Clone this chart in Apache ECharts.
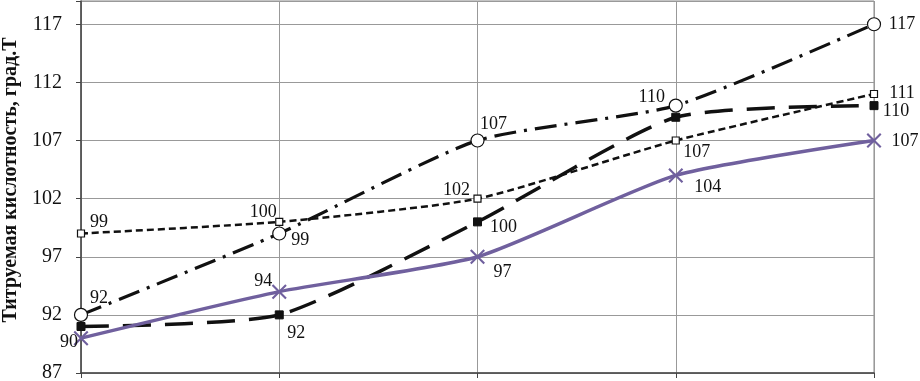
<!DOCTYPE html>
<html><head><meta charset="utf-8">
<script src="https://cdn.jsdelivr.net/npm/echarts@6/dist/echarts.min.js"></script>
<style>html,body{margin:0;padding:0;background:#fff}#c{width:920px;height:381px}</style>
</head><body><div id="c"></div>
<script>
const categories = ['1', '2', '3', '4', '5'];
const seriesCircle = [92, 99, 107, 110, 117];
const seriesFilledSq = [91, 92, 100, 109, 110];
const seriesOpenSq = [99, 100, 102, 107, 111];
const seriesPurple = [90, 94, 97, 104, 107];
const yTicks = [87, 92, 97, 102, 107, 112, 117];

// label offsets (text centre relative to point) — styling only
const offCircle = [[18,-17],[21,7],[16,-16],[-24,-8],[28,0]];
const showFilled = [false, true, true, false, true];
const offFilled = [[0,0],[17,18],[26,5],[0,0],[22,6]];
const offOpen = [[18,-11],[-16,-10],[-21,-8],[21,12],[28,-1]];
const offPurple = [[-12,4],[-16,-10],[25,16],[32,12],[31,1]];

const serif = '"Liberation Serif", "Times New Roman", serif';
const lblBase = {fontFamily: serif, fontSize: 18, color: '#111', position: 'inside', align: 'center', verticalAlign: 'middle', formatter: '{c}'};

function mk(values, offs, shows) {
  return values.map((v, i) => ({value: v, label: {show: shows ? shows[i] : true, offset: offs[i]}}));
}

const xPath = 'path://M0,1 L1,0 L5,4 L9,0 L10,1 L6,5 L10,9 L9,10 L5,6 L1,10 L0,9 L4,5 Z';

const option = {
  animation: false,
  backgroundColor: '#fff',
  grid: {left: 81, right: 46, top: 1, bottom: 8, containLabel: false, outerBoundsMode: 'none',
         show: true, borderColor: '#888', borderWidth: 1},
  xAxis: {
    type: 'category', data: categories, boundaryGap: false,
    axisLabel: {show: false},
    axisLine: {show: true, lineStyle: {color: '#444', width: 1.5}},
    axisTick: {show: true, length: 5, lineStyle: {color: '#444'}},
    splitLine: {show: true, lineStyle: {color: '#999', width: 1}}
  },
  yAxis: {
    type: 'value', min: 87, max: 119, interval: 5,
    name: 'Титруемая кислотность, град.Т',
    nameLocation: 'middle', nameGap: 59, nameRotate: 90,
    nameTextStyle: {fontFamily: serif, fontSize: 20, fontWeight: 'bold', color: '#111', padding: [0, 0, 0, 14]},
    axisLabel: {fontFamily: serif, fontSize: 20, color: '#111', margin: 19,
      formatter: v => (yTicks.includes(v) ? String(v) : '')},
    axisLine: {show: true, lineStyle: {color: '#444', width: 1.5}},
    axisTick: {show: true, length: 5, lineStyle: {color: '#444'}},
    splitLine: {show: true, lineStyle: {color: '#999', width: 1}}
  },
  series: [
    {
      type: 'line', name: 'A', smooth: 0.2, z: 3,
      data: mk(seriesCircle, offCircle),
      symbol: 'circle', symbolSize: 13,
      itemStyle: {color: '#fff', borderColor: '#111', borderWidth: 1.2},
      lineStyle: {color: '#111', width: 3.2, type: [22, 8, 3, 8]},
      label: lblBase
    },
    {
      type: 'line', name: 'B', smooth: 0.2, z: 2,
      data: mk(seriesFilledSq, offFilled, showFilled),
      symbol: 'rect', symbolSize: 8,
      itemStyle: {color: '#111', borderColor: '#111'},
      lineStyle: {color: '#111', width: 3.5, type: [28, 14]},
      label: lblBase
    },
    {
      type: 'line', name: 'C', smooth: 0.2, z: 2,
      data: mk(seriesOpenSq, offOpen),
      symbol: 'rect', symbolSize: 7,
      itemStyle: {color: '#fff', borderColor: '#111', borderWidth: 1.2},
      lineStyle: {color: '#111', width: 2.5, type: [7, 4]},
      label: lblBase
    },
    {
      type: 'line', name: 'D', smooth: 0.2, z: 4,
      data: mk(seriesPurple, offPurple),
      symbol: xPath, symbolSize: 15,
      itemStyle: {color: '#70609e'},
      lineStyle: {color: '#70609e', width: 3.5},
      label: lblBase
    }
  ]
};
const chart = echarts.init(document.getElementById('c'), null, {renderer: 'canvas'});
chart.setOption(option);
</script></body></html>
